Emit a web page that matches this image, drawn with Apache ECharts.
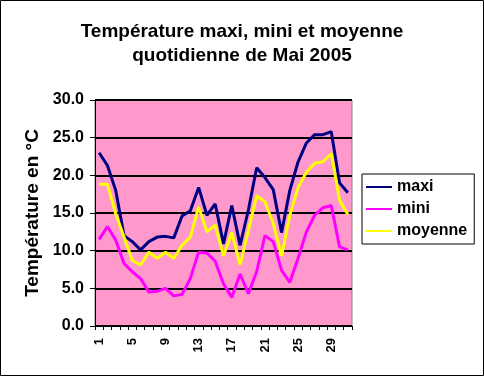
<!DOCTYPE html>
<html>
<head>
<meta charset="utf-8">
<script src="https://cdn.jsdelivr.net/npm/echarts@6/dist/echarts.min.js"></script>
<style>
  html, body { margin: 0; padding: 0; background: #fff; }
  #chart { width: 484px; height: 376px; }
</style>
</head>
<body>
<div id="chart"></div>
<script>
// jours de mai 2005
var jours = [];
for (var d = 1; d <= 31; d++) jours.push(String(d));

var maxi = [23.0, 21.3, 18.0, 12.0, 11.2, 10.1, 11.2, 11.8, 11.9, 11.7, 14.6, 15.3, 18.4, 14.7, 16.2,
            10.9, 16.0, 10.7, 15.4, 21.0, 19.7, 18.1, 12.4, 18.0, 21.8, 24.3, 25.4, 25.4, 25.8, 19.0, 17.7];
var mini = [11.5, 13.2, 11.4, 8.3, 7.2, 6.3, 4.5, 4.6, 5.0, 4.0, 4.2, 6.3, 9.8, 9.7, 8.6,
            5.6, 3.8, 6.9, 4.3, 7.2, 12.0, 11.2, 7.4, 5.8, 9.0, 12.5, 14.7, 15.7, 16.0, 10.5, 10.1];
var moyenne = [18.8, 18.8, 14.9, 11.8, 8.7, 8.1, 9.8, 9.0, 9.8, 9.0, 10.7, 11.8, 15.8, 12.5, 13.4,
               9.3, 12.4, 8.1, 12.7, 17.3, 16.5, 13.6, 9.3, 14.7, 18.4, 20.4, 21.6, 21.8, 22.9, 16.7, 14.8];

var police = '"Liberation Sans", Arial, sans-serif';

var chart = echarts.init(document.getElementById("chart"));

function serie(nom, data, couleur) {
    return {
        name: nom,
        type: 'line',
        data: data,
        symbol: 'none',
        lineStyle: { color: couleur, width: 3 },
        itemStyle: { color: couleur },
        z: 3
    };
}

option = {
    animation: false,
    textStyle: { fontFamily: police },
    title: {
        text: 'Température maxi, mini et moyenne\nquotidienne de Mai 2005',
        left: 'center',
        top: 15,
        textStyle: {
            fontFamily: police,
            fontSize: 19,
            fontWeight: 'bold',
            color: '#000',
            lineHeight: 24
        }
    },
    graphic: [{
        type: 'rect',
        shape: { x: 0.5, y: 0.5, width: 483, height: 375 },
        style: { fill: 'none', stroke: '#000', lineWidth: 1 },
        silent: true
    }],
    legend: {
        orient: 'vertical',
        left: 362,
        top: 174,
        padding: [5, 7, 5, 4],
        itemGap: 6,
        itemWidth: 26,
        itemHeight: 2,
        icon: 'rect',
        borderColor: '#000',
        borderWidth: 1,
        backgroundColor: '#fff',
        textStyle: { fontFamily: police, fontSize: 16, fontWeight: 'bold', color: '#000' },
        data: ['maxi', 'mini', 'moyenne']
    },
    grid: {
        left: 95,
        top: 100,
        right: 132,
        bottom: 50,
        show: true,
        backgroundColor: '#FF99CC',
        borderColor: '#808080',
        borderWidth: 1
    },
    xAxis: {
        type: 'category',
        boundaryGap: true,
        data: jours,
        axisLine: { lineStyle: { color: '#000', width: 1 } },
        axisTick: { show: true, interval: 0, length: 4, lineStyle: { color: '#000' } },
        axisLabel: {
            interval: 3,
            rotate: 90,
            margin: 12,
            fontFamily: police,
            fontSize: 13,
            fontWeight: 'bold',
            color: '#000'
        },
        splitLine: { show: false }
    },
    yAxis: {
        type: 'value',
        min: 0,
        max: 30,
        interval: 5,
        name: 'Température en °C',
        nameLocation: 'middle',
        nameGap: 53,
        nameTextStyle: { fontFamily: police, fontSize: 19, fontWeight: 'bold', color: '#000' },
        axisLine: { show: true, lineStyle: { color: '#000', width: 1 } },
        axisTick: { show: true, length: 5, lineStyle: { color: '#000' } },
        axisLabel: {
            margin: 11,
            fontFamily: police,
            fontSize: 16,
            fontWeight: 'bold',
            color: '#000',
            formatter: function (v) { return v.toFixed(1); }
        },
        splitLine: { show: true, lineStyle: { color: '#000', width: 2 } }
    },
    series: [
        serie('maxi', maxi, '#000080'),
        serie('mini', mini, '#FF00FF'),
        serie('moyenne', moyenne, '#FFFF00')
    ]
};
chart.setOption(option);
</script>
</body>
</html>
